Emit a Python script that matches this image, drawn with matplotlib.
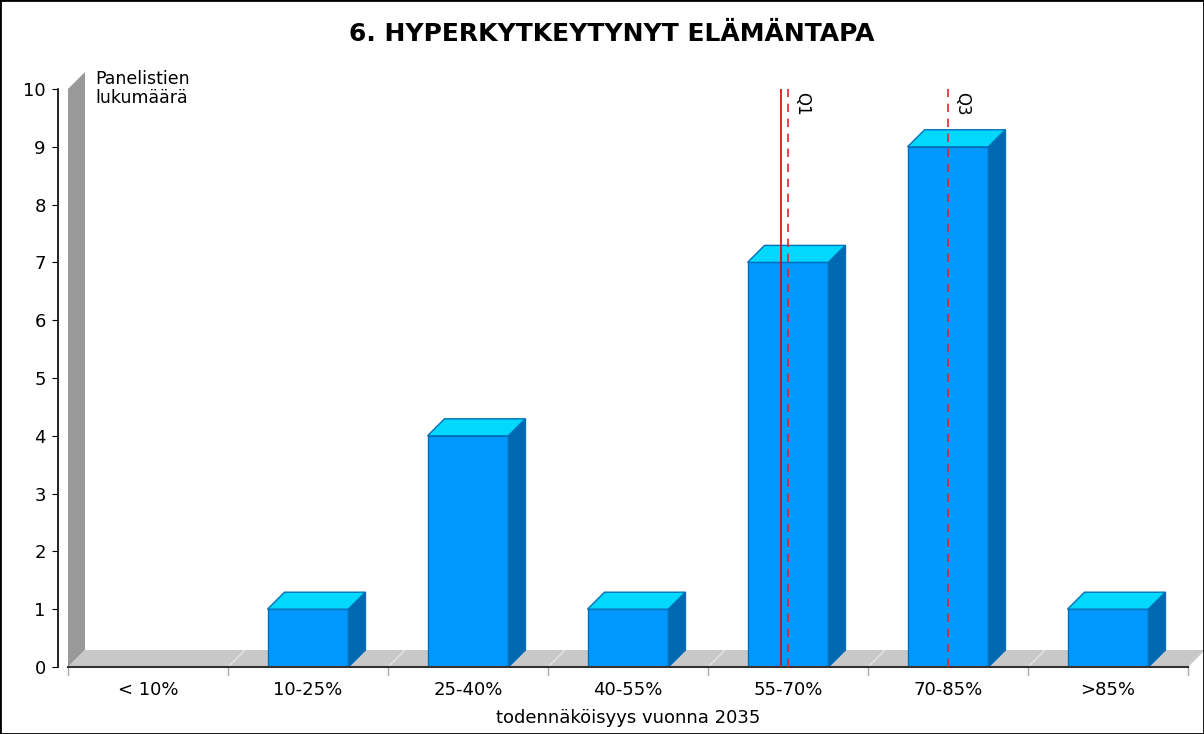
import matplotlib
matplotlib.use("Agg")
import matplotlib.pyplot as plt
from matplotlib.patches import Polygon, Rectangle

categories = ["< 10%", "10-25%", "25-40%", "40-55%", "55-70%", "70-85%", ">85%"]
counts = [0, 1, 4, 1, 7, 9, 1]
median = 3.956
q1 = 4.0
q3 = 5.0
title = "6. HYPERKYTKEYTYNYT ELÄMÄNTAPA"
xlabel = "todennäköisyys vuonna 2035"
ylabel = "Panelistien\nlukumäärä"

W, H = 1204, 734
fig = plt.figure(figsize=(W / 100, H / 100), dpi=100)
x0, x1, y0, y1 = 68, 1188, 667, 89
ax = fig.add_axes([x0 / W, 1 - y0 / H, (x1 - x0) / W, (y0 - y1) / H])
ax.set_xlim(-0.5, len(categories) - 0.5)
ax.set_ylim(0, 10)

# 3d depth in data units (~17 px)
dx = 17 / ((x1 - x0) / len(categories))
dy = 17 / ((y0 - y1) / 10)
bw = 0.506

front = "#0099ff"
top_c = "#00d8ff"
side = "#0068b0"
edge = "#0070b8"

# back wall and floor
ax.add_patch(Polygon([(-0.5, 0), (-0.5, 10), (-0.5 + dx, 10 + dy), (-0.5 + dx, dy)],
                     closed=True, fc="#999999", ec="none", clip_on=False, zorder=1))
ax.add_patch(Polygon([(-0.5, 0), (len(categories) - 0.5, 0),
                      (len(categories) - 0.5 + dx, dy), (-0.5 + dx, dy)],
                     closed=True, fc="#c8c8c8", ec="none", clip_on=False, zorder=1))
for i in range(1, len(categories)):
    ax.plot([i - 0.5, i - 0.5 + dx], [0, dy], color="#e4e4e4", lw=1, zorder=1.5, clip_on=False)

for i, v in enumerate(counts):
    if v == 0:
        continue
    l, r = i - bw / 2, i + bw / 2
    ax.add_patch(Rectangle((l, 0), bw, v, fc=front, ec=edge, lw=1, zorder=3))
    ax.add_patch(Polygon([(l, v), (r, v), (r + dx, v + dy), (l + dx, v + dy)],
                         closed=True, fc=top_c, ec=edge, lw=1, zorder=3, clip_on=False))
    ax.add_patch(Polygon([(r, 0), (r, v), (r + dx, v + dy), (r + dx, dy)],
                         closed=True, fc=side, ec=edge, lw=1, zorder=3, clip_on=False))

ax.axvline(median, color="#e00000", lw=1.2, zorder=5)
ax.axvline(q1, color="#e8202a", lw=1.2, ls=(0, (5, 4)), zorder=5)
ax.axvline(q3, color="#e8202a", lw=1.2, ls=(0, (5, 4)), zorder=5)
ax.text(q1 + 0.035, 9.95, "Q1", rotation=270, va="top", ha="left", fontsize=12, zorder=6)
ax.text(q3 + 0.035, 9.95, "Q3", rotation=270, va="top", ha="left", fontsize=12, zorder=6)

for s in ["top", "right"]:
    ax.spines[s].set_visible(False)
ax.spines["left"].set_position(("outward", 7))
ax.spines["left"].set_linewidth(1.2)
ax.spines["bottom"].set_color("#333333")
ax.spines["bottom"].set_linewidth(1.5)
ax.spines["bottom"].set_zorder(4)

ax.set_yticks(range(0, 11))
ax.tick_params(axis="y", length=4, labelsize=13, pad=5)
ax.set_xticks(range(len(categories)))
ax.set_xticklabels(categories, fontsize=13)
ax.tick_params(axis="x", length=0, pad=10)
for b in range(len(categories) + 1):
    ax.plot([b - 0.5, b - 0.5], [0, -0.14], color="#aaaaaa", lw=1, clip_on=False, zorder=2)

ax.set_xlabel(xlabel, fontsize=13, labelpad=7)
ax.text(95 / W, 1 - 70 / H, ylabel, transform=fig.transFigure, fontsize=12.5,
        va="top", ha="left", linespacing=1.05)
fig.text(612 / W, 1 - 34 / H, title, ha="center", va="center", fontsize=18, fontweight="bold")

fig.patches.append(Rectangle((0, 0), 1, 1, transform=fig.transFigure, fill=False,
                             ec="black", lw=2))
fig.savefig("out.png", dpi=100)
